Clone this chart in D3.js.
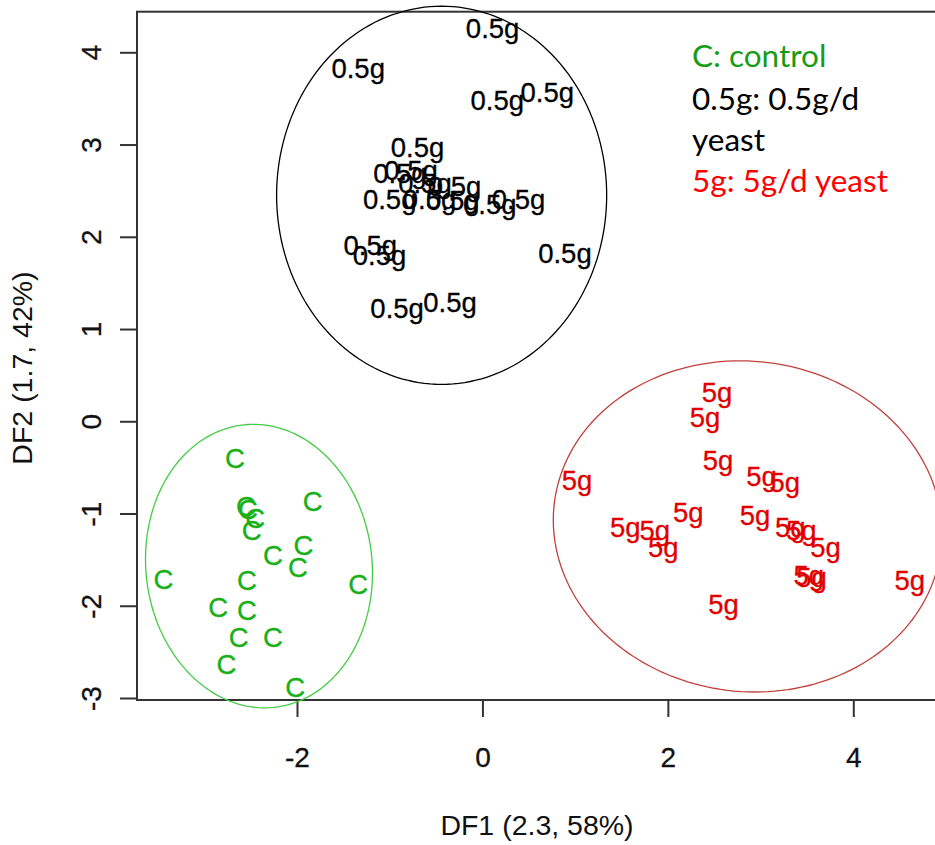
<!DOCTYPE html>
<html>
<head>
<meta charset="utf-8">
<script src="https://cdn.jsdelivr.net/npm/d3@7"></script>
<style>
  body { margin: 0; background: #fff; }
  svg { display: block; }
</style>
</head>
<body>
<div id="chart"></div>
<script>
const w = 935;
const h = 845;

// tick labels
const xTicks = [-2, 0, 2, 4];
const yTicks = [-3, -2, -1, 0, 1, 2, 3, 4];

// group labels
const groupNames = ["C", "0.5g", "5g"];

// control group (C)
const cX = [-2.67, -2.53, -2.55, -2.45, -2.49, -1.83, -1.93, -1.99, -2.26, -2.54, -3.44, -1.34, -2.85, -2.54, -2.63, -2.26, -2.76, -2.02];
const cY = [-0.40, -0.95, -0.92, -1.05, -1.18, -0.86, -1.34, -1.58, -1.45, -1.72, -1.71, -1.76, -2.01, -2.05, -2.34, -2.34, -2.63, -2.88];

// 0.5 g/d group
const lowX = [0.11, -1.34, 0.16, 0.70, -0.70, -0.89, -0.77, -0.62, -0.30, -1.00, -0.57, -0.32, 0.08, 0.39, -1.21, -1.11, 0.89, -0.92, -0.35];
const lowY = [4.26, 3.83, 3.48, 3.57, 2.97, 2.69, 2.72, 2.58, 2.55, 2.41, 2.41, 2.40, 2.35, 2.41, 1.91, 1.80, 1.82, 1.23, 1.29];

// 5 g/d group
const highX = [2.53, 2.40, 2.54, 1.02, 3.01, 3.26, 2.22, 2.94, 1.54, 1.86, 1.95, 3.32, 3.44, 3.70, 3.52, 3.55, 4.61, 2.60];
const highY = [0.32, 0.05, -0.42, -0.64, -0.59, -0.66, -0.98, -1.02, -1.15, -1.18, -1.36, -1.15, -1.18, -1.36, -1.67, -1.69, -1.72, -1.98];

// ellipses: centre, semi-axes (data units), tilt in degrees
const ellCx = [-2.41, -0.44, 2.86];
const ellCy = [-1.57, 2.45, -1.14];
const ellA = [1.22, 1.78, 2.10];
const ellB = [1.54, 2.05, 1.79];
const ellAngle = [6, 0, -7];

// legend lines
const legendText = ["C: control", "0.5g: 0.5g/d", "yeast", "5g: 5g/d yeast"];

const pointColors = ["#17b017", "#000000", "#e00000"];
const ellColors = ["#44cc44", "#000000", "#c2403a"];
const legendColors = ["#169c16", "#000000", "#000000", "#ff0000"];

const frame = { left: 137, top: 11.7, bottom: 700, right: 1000 };

const svg = d3.select("#chart")
    .append("svg")
    .attr("width", w)
    .attr("height", h);

const x = d3.scaleLinear().domain([-2, 4]).range([297, 853.3]);
const y = d3.scaleLinear().domain([-3, 4]).range([698, 52.3]);

// plot frame
svg.append("rect")
    .attr("x", frame.left)
    .attr("y", frame.top)
    .attr("width", frame.right - frame.left)
    .attr("height", frame.bottom - frame.top)
    .attr("fill", "none")
    .attr("stroke", "#333")
    .attr("stroke-width", 2);

// axes
const xAxis = svg.append("g")
    .attr("transform", "translate(0," + frame.bottom + ")")
    .call(d3.axisBottom(x).tickValues(xTicks).tickSize(17).tickFormat(d3.format("d")));

const yAxis = svg.append("g")
    .attr("transform", "translate(" + frame.left + ",0)")
    .call(d3.axisLeft(y).tickValues(yTicks).tickSize(17).tickFormat(d3.format("d")));

[xAxis, yAxis].forEach(function(a) {
    a.select(".domain").remove();
    a.selectAll(".tick line").attr("stroke", "#333").attr("stroke-width", 2);
    a.selectAll(".tick text")
        .attr("font-family", "Liberation Sans, Arial, sans-serif")
        .attr("font-size", 28)
        .attr("fill", "#111")
        .attr("stroke", "#111")
        .attr("stroke-width", 0.3)
        .text(d => d < 0 ? "-" + Math.abs(d) : d);
});

xAxis.selectAll(".tick text")
    .attr("y", 67)
    .attr("dy", 0);

yAxis.selectAll(".tick text")
    .attr("x", 0)
    .attr("dy", 0)
    .attr("text-anchor", "middle")
    .attr("transform", "translate(-36,0) rotate(-90)");

// axis titles
svg.append("text")
    .attr("x", 537)
    .attr("y", 835)
    .attr("text-anchor", "middle")
    .attr("font-family", "Liberation Sans, Arial, sans-serif")
    .attr("font-size", 28.5)
    .attr("fill", "#111")
    .text("DF1 (2.3, 58%)");

svg.append("text")
    .attr("transform", "translate(32,368) rotate(-90)")
    .attr("text-anchor", "middle")
    .attr("font-family", "Liberation Sans, Arial, sans-serif")
    .attr("font-size", 28.5)
    .attr("fill", "#111")
    .text("DF2 (1.7, 42%)");

// ellipses
let ellipsePath = function(i) {
    let phi = ellAngle[i] * Math.PI / 180;
    let pts = d3.range(0, 361, 2).map(function(deg) {
        let t = deg * Math.PI / 180;
        let dx = ellA[i] * Math.cos(t);
        let dy = ellB[i] * Math.sin(t);
        return [
            x(ellCx[i] + dx * Math.cos(phi) - dy * Math.sin(phi)),
            y(ellCy[i] + dx * Math.sin(phi) + dy * Math.cos(phi))
        ];
    });
    return d3.line()(pts);
};

svg.selectAll(".ell")
    .data(ellCx)
    .enter()
    .append("path")
    .attr("class", "ell")
    .attr("d", (d, i) => ellipsePath(i))
    .attr("fill", "none")
    .attr("stroke", (d, i) => ellColors[i])
    .attr("stroke-width", 1.3);

// points as text labels
const groups = [[cX, cY], [lowX, lowY], [highX, highY]];

groups.forEach(function(g, gi) {
    svg.append("g")
        .selectAll("text")
        .data(g[0])
        .enter()
        .append("text")
        .attr("x", d => x(d))
        .attr("y", (d, i) => y(g[1][i]))
        .attr("dy", "0.36em")
        .attr("text-anchor", "middle")
        .attr("font-family", "Liberation Sans, Arial, sans-serif")
        .attr("font-size", 27.5)
        .attr("fill", pointColors[gi])
        .attr("stroke", pointColors[gi])
        .attr("stroke-width", 0.3)
        .text(groupNames[gi]);
});

// legend
svg.append("g")
    .selectAll("text")
    .data(legendText)
    .enter()
    .append("text")
    .attr("x", 692)
    .attr("y", (d, i) => [67, 110, 151, 192][i])
    .attr("font-family", "Lato, Open Sans, sans-serif")
    .attr("font-size", 31.5)
    .attr("fill", (d, i) => legendColors[i])
    .text(d => d);
</script>
</body>
</html>
